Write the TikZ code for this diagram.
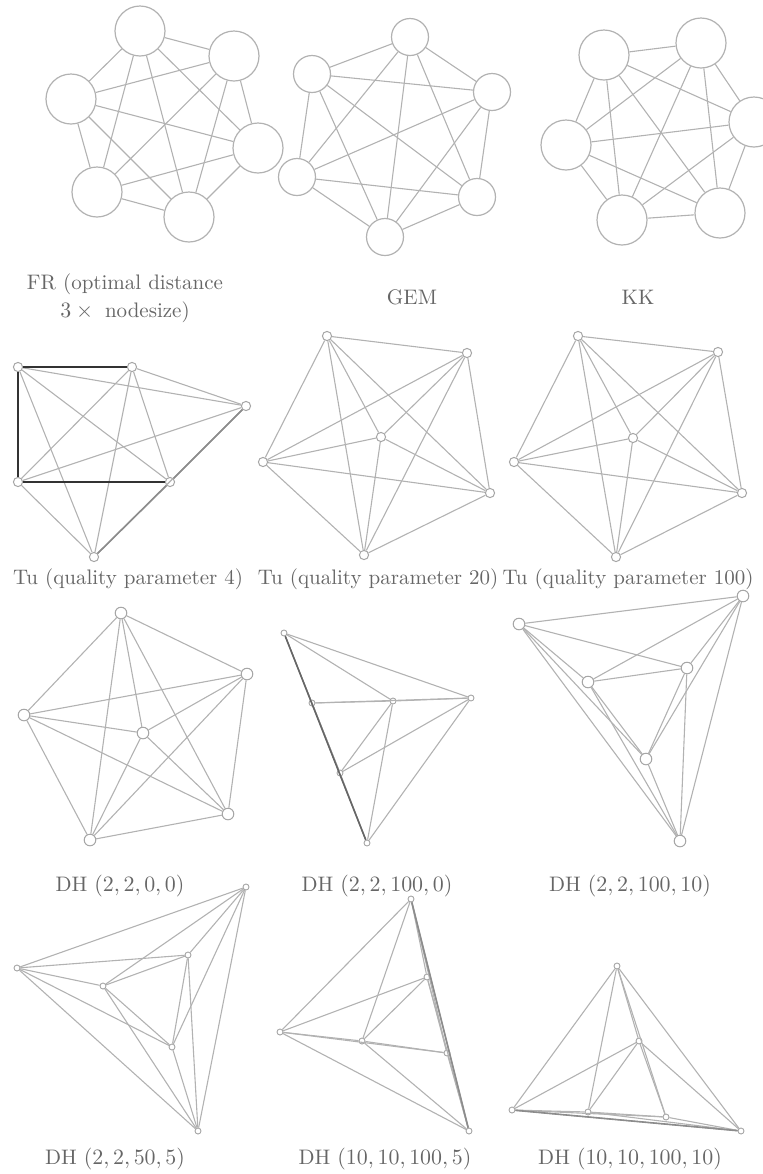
\documentclass[tikz,border=0pt]{standalone}
\usepackage{amsmath}
\begin{document}
\begin{tikzpicture}[x=0.5pt,y=-0.5pt,
  edge/.style={draw=black!30,line width=0.55pt},
  heavy/.style={draw=black!80,line width=1.3pt},
  overlap/.style={draw=black!45,line width=0.8pt},
  bignode/.style={circle,draw=black!30,fill=white,line width=0.6pt,inner sep=0pt,minimum size=25pt},
  gemnode/.style={circle,draw=black!30,fill=white,line width=0.6pt,inner sep=0pt,minimum size=18.5pt},
  smallnode/.style={circle,draw=black!35,fill=white,line width=0.5pt,inner sep=0pt,minimum size=4.6pt},
  midnode/.style={circle,draw=black!35,fill=white,line width=0.5pt,inner sep=0pt,minimum size=5.8pt},
  tinynode/.style={circle,draw=black!35,fill=white,line width=0.45pt,inner sep=0pt,minimum size=3pt},
  lbl/.style={text=black!60,font=\fontsize{10.5}{13}\selectfont,inner sep=0pt,align=center}]
\useasboundingbox (0,0) rectangle (763,1174);
\newcommand\completegraph[1]{%
  \foreach \i in {1,...,5}{%
    \pgfmathtruncatemacro{\ii}{\i+1}%
    \foreach \j in {\ii,...,6}{\draw[edge] (#1\i) -- (#1\j);}}}
% ---------- FR ----------
\node[bignode] (a1) at (140,31) {};
\node[bignode] (a2) at (234,56) {};
\node[bignode] (a3) at (71,99) {};
\node[bignode] (a4) at (258,148) {};
\node[bignode] (a5) at (97,192) {};
\node[bignode] (a6) at (189,217) {};
\completegraph{a}
% ---------- GEM ----------
\node[gemnode] (b1) at (410,37) {};
\node[gemnode] (b2) at (312,74) {};
\node[gemnode] (b3) at (492,92) {};
\node[gemnode] (b4) at (297,177) {};
\node[gemnode] (b5) at (477,197) {};
\node[gemnode] (b6) at (385,237) {};
\completegraph{b}
% ---------- KK ----------
\node[bignode] (c1) at (604,55) {};
\node[bignode] (c2) at (701,43) {};
\node[bignode] (c3) at (754,122) {};
\node[bignode] (c4) at (566,145) {};
\node[bignode] (c5) at (622,220) {};
\node[bignode] (c6) at (720,213) {};
\completegraph{c}
\node[lbl] (la) at (125,298) {FR (optimal distance\\[1pt]$3\times{}$ nodesize)};
\node[lbl] (lb) at (412,297) {GEM};
\node[lbl] (lc) at (638,297) {KK};
% ---------- Tu 4 ----------
\node[smallnode] (d1) at (18,367) {};
\node[smallnode] (d2) at (132,367) {};
\node[smallnode] (d3) at (246,406) {};
\node[smallnode] (d4) at (18,482) {};
\node[smallnode] (d5) at (170,482) {};
\node[smallnode] (d6) at (94,557) {};
\completegraph{d}
\draw[heavy] (d1) -- (d2);
\draw[heavy] (d1) -- (d4);
\draw[heavy] (d4) -- (d5);
\draw[overlap] (d3) -- (d5);
\draw[overlap] (d5) -- (d6);
% ---------- Tu 20 ----------
\node[smallnode] (e1) at (327,336) {};
\node[smallnode] (e2) at (467,353) {};
\node[smallnode] (e3) at (381,437) {};
\node[smallnode] (e4) at (263,462) {};
\node[smallnode] (e5) at (490,493) {};
\node[smallnode] (e6) at (364,555) {};
\completegraph{e}
% ---------- Tu 100 ----------
\node[smallnode] (f1) at (578,336) {};
\node[smallnode] (f2) at (718,352) {};
\node[smallnode] (f3) at (633,438) {};
\node[smallnode] (f4) at (514,462) {};
\node[smallnode] (f5) at (742,493) {};
\node[smallnode] (f6) at (616,557) {};
\completegraph{f}
\node[lbl] (ld) at (128,579) {Tu (quality parameter 4)};
\node[lbl] (le) at (378,579) {Tu (quality parameter 20)};
\node[lbl] (lf) at (628,579) {Tu (quality parameter 100)};
% ---------- DH (2,2,0,0) ----------
\node[midnode] (g1) at (121,613) {};
\node[midnode] (g2) at (247,674) {};
\node[midnode] (g3) at (24,715) {};
\node[midnode] (g4) at (143,733) {};
\node[midnode] (g5) at (228,814) {};
\node[midnode] (g6) at (90,840) {};
\completegraph{g}
% ---------- DH (2,2,100,0) ----------
\node[tinynode] (h1) at (284,633) {};
\node[tinynode] (h2) at (312,703) {};
\node[tinynode] (h3) at (393,701) {};
\node[tinynode] (h4) at (471,698) {};
\node[tinynode] (h5) at (340,773) {};
\node[tinynode] (h6) at (367,843) {};
\completegraph{h}
\draw[overlap,draw=black!60] (h1) -- (h6);
% ---------- DH (2,2,100,10) ----------
\node[midnode] (i1) at (519,624) {};
\node[midnode] (i2) at (743,596) {};
\node[midnode] (i3) at (687,668) {};
\node[midnode] (i4) at (588,682) {};
\node[midnode] (i5) at (646,759) {};
\node[midnode] (i6) at (680,841) {};
\completegraph{i}
\node[lbl] (lg) at (120,886) {DH $(2,2,0,0)$};
\node[lbl] (lh) at (377,886) {DH $(2,2,100,0)$};
\node[lbl] (li) at (630,886) {DH $(2,2,100,10)$};
% ---------- DH (2,2,50,5) ----------
\node[tinynode] (j1) at (246,887) {};
\node[tinynode] (j2) at (188,955) {};
\node[tinynode] (j3) at (17,968) {};
\node[tinynode] (j4) at (103,986) {};
\node[tinynode] (j5) at (172,1047) {};
\node[tinynode] (j6) at (198,1131) {};
\completegraph{j}
% ---------- DH (10,10,100,5) ----------
\node[tinynode] (k1) at (411,899) {};
\node[tinynode] (k2) at (427,977) {};
\node[tinynode] (k3) at (280,1032) {};
\node[tinynode] (k4) at (362,1041) {};
\node[tinynode] (k5) at (447,1053) {};
\node[tinynode] (k6) at (469,1131) {};
\completegraph{k}
\draw[overlap] (k1) -- (k6);
% ---------- DH (10,10,100,10) ----------
\node[tinynode] (m1) at (617,966) {};
\node[tinynode] (m2) at (639,1041) {};
\node[tinynode] (m3) at (512,1110) {};
\node[tinynode] (m4) at (588,1112) {};
\node[tinynode] (m5) at (666,1117) {};
\node[tinynode] (m6) at (741,1131) {};
\completegraph{m}
\draw[overlap] (m3) -- (m6);
\node[lbl] (lj) at (115,1159) {DH $(2,2,50,5)$};
\node[lbl] (lk) at (385,1159) {DH $(10,10,100,5)$};
\node[lbl] (lm) at (630,1159) {DH $(10,10,100,10)$};
\end{tikzpicture}
\end{document}
